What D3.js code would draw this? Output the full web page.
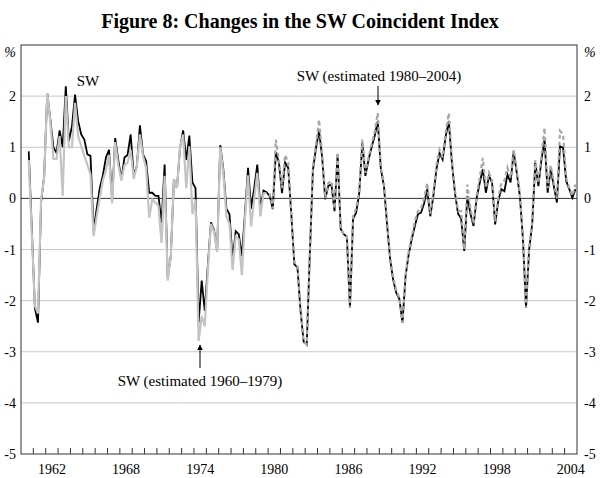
<!DOCTYPE html>
<html>
<head>
<meta charset="utf-8">
<script src="https://cdn.jsdelivr.net/npm/d3@7"></script>
<style>
  body { margin: 0; background: #fff; }
  text { font-family: "Liberation Serif", "DejaVu Serif", serif; }
</style>
</head>
<body>
<svg id="svg"></svg>
<script>
// quarterly values, first quarter is 1960 Q3
const startYear = 1960.625;
const sw = [0.92,-0.6,-2.15,-2.43,-0.08,0.44,2.06,1.54,1.0,0.89,1.33,1.0,2.19,1.12,1.41,2.03,1.51,1.25,1.15,0.86,
  0.83,-0.62,-0.2,0.2,0.45,0.8,0.95,-0.02,1.18,0.75,0.37,0.8,0.85,1.25,0.45,0.63,1.43,0.86,0.73,0.11,
  0.11,0.05,0.05,-0.48,0.66,-1.55,-1.13,0.37,0.21,1.0,1.33,0.75,1.23,0.31,0.2,-2.43,-1.61,-2.2,-1.3,-0.47,
  -0.62,-1.02,1.04,0.57,-0.2,-0.31,-1.2,-0.64,-0.7,-1.13,-0.3,0.6,-0.2,0.2,0.66,-0.2,0.15,0.12,0.05,-0.21,
  0.9,0.7,0.1,0.7,0.6,-0.3,-1.29,-1.35,-2.2,-2.8,-2.86,-1.1,0.55,0.99,1.32,0.8,-0.02,0.25,0.27,-0.25,
  0.86,-0.6,-0.7,-0.75,-2.14,-0.4,-0.28,0.1,1.09,0.44,0.75,1.0,1.22,1.51,0.57,0.24,-0.5,-1.19,-1.6,-1.85,
  -1.97,-2.43,-1.52,-1.1,-0.8,-0.54,-0.31,-0.28,-0.1,0.18,-0.35,0.05,0.57,0.89,0.76,1.22,1.51,0.7,0.1,-0.3,
  -0.4,-1.03,0.05,-0.3,-0.54,0.0,0.3,0.57,0.11,0.44,0.31,-0.51,-0.05,0.18,0.14,0.47,0.31,0.92,0.5,0.05,
  -0.8,-2.14,-1.0,-0.5,0.7,0.24,0.76,1.15,0.11,0.57,0.24,-0.08,1.02,0.99,0.34,0.18,0.01,0.18];

// estimated over 1960-1979, starts 1960 Q3
const est6079 = [0.75,-0.7,-2.1,-2.25,-0.02,0.4,2.06,1.5,0.77,0.77,1.22,0.05,2.0,1.0,1.0,1.87,1.22,1.02,0.83,0.66,
  0.47,-0.74,-0.35,0.0,0.35,0.55,0.85,-0.1,1.1,0.65,0.35,0.65,0.7,0.95,0.38,0.63,1.25,0.83,0.6,-0.38,
  -0.02,-0.08,-0.15,-0.87,0.44,-1.61,-1.13,0.37,0.2,1.02,1.25,0.2,1.02,-0.31,-0.02,-2.79,-2.3,-2.5,-1.4,-0.5,
  -0.65,-1.05,1.0,0.5,-0.35,-0.5,-1.4,-0.75,-0.8,-1.5,-0.4,0.45,-0.55,0.0,0.5,-0.35,0.1,0.1];

// estimated over 1980-2004, starts 1980 Q1
const est8004start = 1980.125;
const est8004 = [0.1,-0.2,1.15,0.75,0.2,0.85,0.7,-0.3,-1.25,-1.3,-2.2,-2.8,-2.86,-1.1,0.6,1.05,1.54,0.85,0.0,0.3,
  0.34,-0.2,0.9,-0.6,-0.7,-0.75,-2.14,-0.35,-0.2,0.15,1.15,0.5,0.8,1.05,1.3,1.67,0.6,0.3,-0.45,-1.15,
  -1.55,-1.8,-1.95,-2.43,-1.5,-1.05,-0.75,-0.45,-0.25,-0.2,0.0,0.3,-0.3,0.1,0.65,0.95,0.8,1.3,1.67,0.75,
  0.15,-0.25,-0.25,-1.0,0.27,-0.2,-0.5,0.05,0.4,0.79,0.2,0.5,0.35,-0.45,0.0,0.3,0.35,0.6,0.4,0.95,
  0.55,0.1,-0.75,-2.14,-0.95,-0.45,0.75,0.3,0.85,1.38,0.2,0.65,0.3,0.0,1.32,1.25,0.4,0.2,0.05,0.27];

const yTicks = [-5,-4,-3,-2,-1,0,1,2];
const yearLabels = [1962,1968,1974,1980,1986,1992,1998,2004];

const W = 600, H = 478;
const svg = d3.select("#svg").attr("width", W).attr("height", H);
const x = d3.scaleLinear().domain([1960, 2005]).range([21, 577]);
const y = d3.scaleLinear().domain([-5, 3]).range([454, 45]);

svg.append("text")
  .attr("x", W/2).attr("y", 28)
  .attr("text-anchor","middle")
  .style("font-size","20px").style("font-weight","bold")
  .text("Figure 8: Changes in the SW Coincident Index");

// grid
svg.selectAll("line.grid")
  .data(yTicks.filter(d => d != 0 && d != -5))
  .enter().append("line")
  .attr("x1", x(1960)).attr("x2", x(2005))
  .attr("y1", d => y(d)).attr("y2", d => y(d))
  .attr("stroke","#c8c8c8").attr("stroke-width",1);

svg.append("line")
  .attr("x1", x(1960)).attr("x2", x(2005))
  .attr("y1", y(0)).attr("y2", y(0))
  .attr("stroke","#333").attr("stroke-width",1);

// frame
svg.append("rect")
  .attr("x", x(1960)).attr("y", y(3))
  .attr("width", x(2005)-x(1960)).attr("height", y(-5)-y(3))
  .attr("fill","none").attr("stroke","#333").attr("stroke-width",1);

// x ticks
svg.append("g")
  .attr("transform",`translate(0,${y(-5)})`)
  .selectAll("line")
  .data(d3.range(1961, 2005))
  .enter().append("line")
  .attr("x1", d => x(d)).attr("x2", d => x(d))
  .attr("y1", 0).attr("y2", -6)
  .attr("stroke","#333");

svg.selectAll("text.year")
  .data(yearLabels)
  .enter().append("text")
  .attr("x", d => x(d + 0.5)).attr("y", y(-5) + 20)
  .attr("text-anchor","middle")
  .style("font-size","14px")
  .text(d => d);

// y labels both sides
const yl = svg.append("g").style("font-size","14px");
yl.selectAll("text.l").data(yTicks).enter().append("text")
  .attr("x", 16).attr("y", d => y(d) + 5)
  .attr("text-anchor","end").text(d => d);
yl.selectAll("text.r").data(yTicks).enter().append("text")
  .attr("x", 584).attr("y", d => y(d) + 5)
  .attr("text-anchor","start").text(d => d);
yl.append("text").attr("x", 16).attr("y", 57).attr("text-anchor","end").style("font-style","italic").text("%");
yl.append("text").attr("x", 584).attr("y", 57).attr("text-anchor","start").style("font-style","italic").text("%");

const line = (t0) => d3.line().x((d, i) => x(t0 + i * 0.25)).y(d => y(d));

svg.append("path").datum(sw)
  .attr("d", line(startYear))
  .attr("fill","none").attr("stroke","#000").attr("stroke-width",1.8);

svg.append("path").datum(est6079)
  .attr("d", line(startYear))
  .attr("fill","none").attr("stroke","#c4c4c4").attr("stroke-width",2.2);

svg.append("path").datum(est8004)
  .attr("d", line(est8004start))
  .attr("fill","none").attr("stroke","#a8a8a8").attr("stroke-width",2.2)
  .attr("stroke-dasharray","4,3");

// annotations
const ann = svg.append("g").style("font-size","15px");
ann.append("text").attr("x", 88).attr("y", 86).attr("text-anchor","middle").text("SW");
ann.append("text").attr("x", 379).attr("y", 81).attr("text-anchor","middle").text("SW (estimated 1980–2004)");
ann.append("text").attr("x", 200).attr("y", 386).attr("text-anchor","middle").text("SW (estimated 1960–1979)");

svg.append("defs").append("marker")
  .attr("id","arr").attr("viewBox","0 0 10 10").attr("refX",9).attr("refY",5)
  .attr("markerWidth",6).attr("markerHeight",6).attr("orient","auto")
  .append("path").attr("d","M0,0L10,5L0,10z").attr("fill","#000");

svg.append("line").attr("x1",378).attr("x2",378).attr("y1",86).attr("y2",105)
  .attr("stroke","#000").attr("marker-end","url(#arr)");
svg.append("line").attr("x1",200).attr("x2",200).attr("y1",368).attr("y2",345)
  .attr("stroke","#000").attr("marker-end","url(#arr)");
</script>
</body>
</html>
